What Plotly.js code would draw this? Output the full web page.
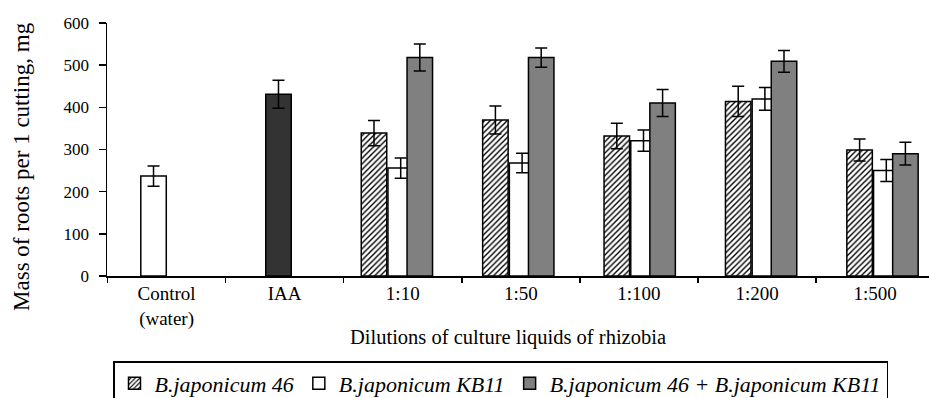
<!DOCTYPE html>
<html>
<head>
<meta charset="utf-8">
<script src="https://cdn.plot.ly/plotly-3.0.1.min.js"></script>
<style>
  html, body { margin: 0; padding: 0; background: #ffffff; }
  #chart { width: 929px; height: 398px; }
</style>
</head>
<body>
<div id="chart"></div>
<script>
// ---- data ----
const categories = ['Control<br>(water)', 'IAA', '1:10', '1:50', '1:100', '1:200', '1:500'];
const seriesNames = ['B.japonicum 46', 'B.japonicum KB11', 'B.japonicum 46 + B.japonicum KB11'];

const controlValue = [237];
const controlError = [24];
const iaaValue = [431];
const iaaError = [33];

const japonicum46 = [null, null, 339, 370, 332, 414, 299];
const japonicum46Error = [null, null, 30, 33, 30, 36, 26];
const japonicumKB11 = [null, null, 256, 268, 321, 420, 250];
const japonicumKB11Error = [null, null, 24, 23, 25, 27, 26];
const japonicumMix = [null, null, 518, 518, 410, 509, 290];
const japonicumMixError = [null, null, 32, 23, 32, 26, 27];

// ---- chart ----
const FONT = '"Liberation Serif", "Times New Roman", Times, serif';
const xIdx = categories.map((_, i) => i);
const barWidth = 0.21;
const lineStyle = { color: '#000000', width: 1.5 };
const errStyle = (arr) => ({ type: 'data', array: arr, visible: true, color: '#000000', thickness: 1.5, width: 6 });

const traces = [
  {
    type: 'bar', name: seriesNames[0], x: xIdx, y: japonicum46,
    offset: -0.292, width: barWidth,
    marker: { color: '#ffffff', line: lineStyle,
      pattern: { shape: '/', fgcolor: '#000000', bgcolor: '#ffffff', size: 4, solidity: 0.35 } },
    error_y: errStyle(japonicum46Error), hoverinfo: 'y'
  },
  {
    type: 'bar', name: seriesNames[1], x: xIdx, y: japonicumKB11,
    offset: -0.072, width: barWidth,
    marker: { color: '#ffffff', line: lineStyle },
    error_y: errStyle(japonicumKB11Error), hoverinfo: 'y'
  },
  {
    type: 'bar', name: seriesNames[2], x: xIdx, y: japonicumMix,
    offset: 0.0853, width: barWidth,
    marker: { color: '#808080', line: lineStyle },
    error_y: errStyle(japonicumMixError), hoverinfo: 'y'
  },
  {
    type: 'bar', name: 'Control (water)', x: [xIdx[0]], y: controlValue,
    offset: -0.108, width: barWidth, showlegend: false,
    marker: { color: '#ffffff', line: lineStyle },
    error_y: errStyle(controlError), hoverinfo: 'y'
  },
  {
    type: 'bar', name: 'IAA', x: [xIdx[1]], y: iaaValue,
    offset: -0.0787, width: barWidth, showlegend: false,
    marker: { color: '#333333', line: lineStyle },
    error_y: errStyle(iaaError), hoverinfo: 'y'
  },
  {
    // carries the category labels of the lower axis
    type: 'scatter', mode: 'markers', x: categories, y: categories.map(() => null),
    xaxis: 'x2', yaxis: 'y', showlegend: false, hoverinfo: 'skip'
  }
];

const layout = {
  width: 929, height: 398,
  margin: { l: 107, r: 0, t: 23, b: 122, pad: 0, autoexpand: false },
  paper_bgcolor: '#ffffff', plot_bgcolor: '#ffffff',
  font: { family: FONT, color: '#000000' },
  barmode: 'overlay',
  showlegend: true,
  xaxis: {
    range: [-0.3863, 6.3847], showgrid: false, zeroline: false,
    showline: true, linecolor: '#000000', linewidth: 1.5,
    ticks: '', showticklabels: false, fixedrange: true
  },
  xaxis2: {
    type: 'category', overlaying: 'x', anchor: 'y', side: 'bottom',
    categoryorder: 'array', categoryarray: categories,
    range: [-0.5042, 6.456], tickson: 'boundaries',
    ticks: 'outside', ticklen: 6, tickwidth: 1.5, tickcolor: '#000000',
    showline: false, showgrid: false, zeroline: false,
    tickfont: { family: FONT, size: 19, color: '#000000' },
    ticklabelstandoff: 4, fixedrange: true
  },
  yaxis: {
    range: [0, 600], dtick: 100, tick0: 0,
    showgrid: false, zeroline: false,
    showline: true, linecolor: '#000000', linewidth: 1.5,
    ticks: 'outside', ticklen: 7, tickwidth: 1.5, tickcolor: '#000000',
    tickfont: { family: FONT, size: 17, color: '#000000' },
    ticklabelstandoff: 6, fixedrange: true
  },
  legend: {
    orientation: 'h', x: 0.0073, y: -0.336, xanchor: 'left', yanchor: 'top',
    bordercolor: '#000000', borderwidth: 1.5, bgcolor: '#ffffff',
    font: { family: FONT, size: 22, style: 'italic', color: '#000000' },
    traceorder: 'normal', itemwidth: 30, tracegroupgap: 0
  },
  annotations: [
    {
      text: 'Mass of roots per 1 cutting, mg', xref: 'paper', yref: 'paper',
      x: -0.1034, y: 0.431, xanchor: 'center', yanchor: 'middle',
      textangle: -90, showarrow: false,
      font: { family: FONT, size: 23, color: '#000000' }
    },
    {
      text: 'Dilutions of culture liquids of rhizobia', xref: 'paper', yref: 'paper',
      x: 0.4878, y: -0.245, xanchor: 'center', yanchor: 'middle',
      showarrow: false,
      font: { family: FONT, size: 20.5, color: '#000000' }
    }
  ]
};

Plotly.newPlot('chart', traces, layout, { displayModeBar: false, staticPlot: true });
</script>
</body>
</html>
